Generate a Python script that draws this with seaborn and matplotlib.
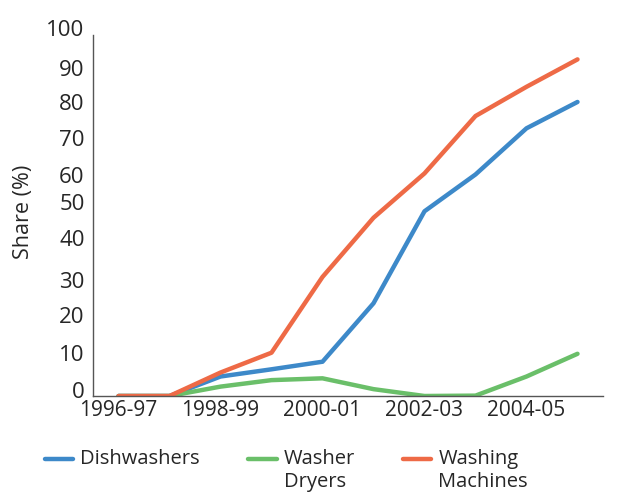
import seaborn as sns
import pandas as pd
import matplotlib.pyplot as plt

years = ["1996-97", "1997-98", "1998-99", "1999-00", "2000-01",
         "2001-02", "2002-03", "2003-04", "2004-05", "2005-06"]
dishwashers = [0, 0, 5.4, 7.4, 9.5, 25.7, 51.2, 61.4, 74.2, 81.5]
washer_dryers = [0, 0, 2.6, 4.4, 4.9, 1.9, 0, 0.1, 5.4, 11.7]
washing_machines = [0, 0, 6.5, 12, 33, 49.4, 61.7, 77.6, 85.7, 93.3]

series = ["Dishwashers", "Washer Dryers", "Washing Machines"]
legend_labels = ["Dishwashers\n ", "Washer\nDryers", "Washing\nMachines"]
colors = ["#3d89c9", "#6abf69", "#ee6a46"]

# tick labels sit at uneven heights in the original
ytick_pos = [1.6, 11.9, 22.4, 32.1, 43.8, 53.7, 61.2, 71.5, 81.4, 90.9, 101.9]
ytick_labels = ["0", "10", "20", "30", "40", "50", "60", "70", "80", "90", "100"]

df = pd.DataFrame({
    "Share": dishwashers + washer_dryers + washing_machines,
    "Type": [s for s in series for _ in years],
})
df["x"] = [i for _ in series for i in range(len(years))]

sns.set_style("white")
plt.rcParams["font.family"] = ["Open Sans", "DejaVu Sans"]
txt = "#262626"

fig = plt.figure(figsize=(6.17, 4.97), dpi=100)
ax = fig.add_axes([93 / 617, 1 - 396 / 497, 510 / 617, 368 / 497])

sns.lineplot(data=df, x="x", y="Share", hue="Type", palette=colors,
             linewidth=3.2, ax=ax, legend=False, solid_capstyle="round")

ax.set_xlim(-0.5, 9.5)
ax.set_ylim(0, 102)
ax.set_xticks(range(0, 10, 2))
ax.set_xticklabels(years[::2], fontsize=15, color=txt)
ax.set_yticks(ytick_pos)
ax.set_yticklabels(ytick_labels, fontsize=16, color=txt)
ax.tick_params(axis="y", length=0, pad=6)
ax.tick_params(axis="x", length=0, pad=3)
ax.set_xlabel("")
ax.set_ylabel("Share (%)", fontsize=15.5, color=txt, labelpad=9)

for s in ["top", "right"]:
    ax.spines[s].set_visible(False)
for s in ["left", "bottom"]:
    ax.spines[s].set_color("#555555")
    ax.spines[s].set_linewidth(1)
ax.spines["left"].set_bounds(0, 100)

handles = [plt.Line2D([], [], color=c, linewidth=3.2, solid_capstyle="round")
           for c in colors]
leg = fig.legend(handles, legend_labels, loc="upper left",
                 bbox_to_anchor=(27 / 617, 1 - 431 / 497), ncol=3,
                 frameon=False, fontsize=14.5, handlelength=1.4,
                 handletextpad=0.35, columnspacing=2.4, labelcolor=txt)
# put each handle level with the first line of its label
for line in leg.get_lines():
    y = line.get_ydata()
    line.set_ydata([v + 9 for v in y])

fig.savefig("out.png", dpi=100)
